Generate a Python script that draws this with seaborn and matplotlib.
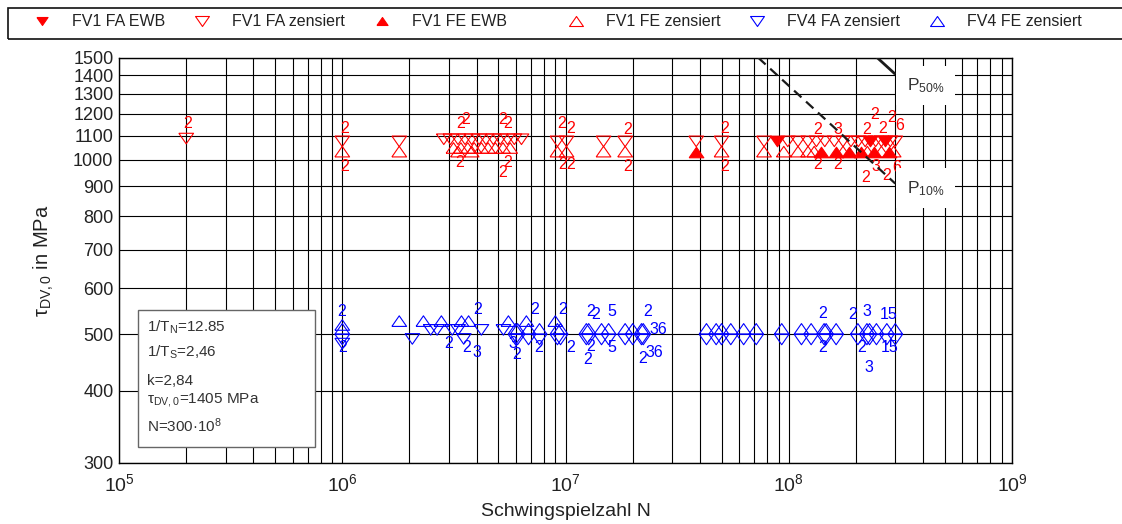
import matplotlib
matplotlib.use("Agg")
import matplotlib.pyplot as plt
from matplotlib.lines import Line2D
from matplotlib.markers import MarkerStyle
from matplotlib.patches import Rectangle
from matplotlib.ticker import FixedLocator, FixedFormatter, LogLocator, NullFormatter, NullLocator
import numpy as np
import seaborn as sns

sns.set_theme(style="white")
plt.rcParams["font.family"] = ["Liberation Sans", "DejaVu Sans"]
plt.rcParams["mathtext.fontset"] = "custom"
plt.rcParams["mathtext.rm"] = "Liberation Sans"
plt.rcParams["mathtext.it"] = "Liberation Sans:italic"
plt.rcParams["mathtext.bf"] = "Liberation Sans:bold"

RED = "#ff0000"
BLUE = "#0000ff"
INK = "#222222"

# ---------------- FV1 (red) ----------------
fv1_fa_ewb_N = [8.85e7, 2.3e8, 2.7e8]
fv1_fa_ewb_tau = [1076, 1076, 1076]

fv1_fa_zens_N = [2.0e5, 1.0e6, 1.8e6,
                 2.85e6, 3.05e6, 3.3e6, 3.55e6, 3.8e6, 4.1e6, 4.4e6, 4.75e6, 5.1e6, 5.5e6, 5.9e6, 6.35e6,
                 9.2e6, 1.01e7, 1.48e7, 1.85e7, 3.85e7, 5.0e7,
                 7.75e7, 9.9e7, 1.1e8, 1.22e8, 1.33e8, 1.45e8, 1.6e8, 1.75e8, 1.9e8, 2.05e8,
                 2.2e8, 2.45e8, 2.6e8, 2.85e8, 3.0e8]
fv1_fa_zens_tau = [1088, 1076, 1076,
                   1085, 1085, 1085, 1085, 1085, 1085, 1085, 1085, 1085, 1085, 1085, 1085,
                   1076, 1076, 1076, 1076, 1076, 1076,
                   1076, 1076, 1076, 1076, 1076, 1076, 1076, 1076, 1076, 1076,
                   1076, 1076, 1076, 1076, 1076]

fv1_fe_ewb_N = [3.85e7, 1.39e8, 1.63e8, 1.86e8, 2.1e8, 2.4e8, 2.8e8]
fv1_fe_ewb_tau = [1033, 1033, 1033, 1033, 1033, 1033, 1033]

fv1_fe_zens_N = [1.0e6, 1.8e6,
                 3.15e6, 3.3e6, 3.4e6, 3.65e6, 3.8e6, 3.9e6, 4.2e6, 4.5e6, 4.85e6, 5.25e6, 5.65e6,
                 9.2e6, 1.01e7, 1.48e7, 1.85e7, 5.0e7,
                 7.75e7, 9.5e7, 1.1e8, 1.22e8, 1.3e8, 1.75e8, 2.25e8, 2.6e8, 2.95e8]
fv1_fe_zens_tau = [1033, 1033,
                   1048, 1033, 1048, 1048, 1033, 1048, 1048, 1048, 1048, 1048, 1048,
                   1033, 1033, 1033, 1033, 1033,
                   1033, 1033, 1033, 1033, 1033, 1033, 1033, 1033, 1033]

# number of coinciding specimens
fv1_count_N = [2.04e5, 1.03e6, 1.03e6, 3.4e6, 3.58e6, 5.25e6, 5.52e6, 3.37e6, 5.52e6, 5.25e6,
               9.64e6, 1.05e7, 9.7e6, 1.05e7, 1.9e7, 1.9e7, 5.18e7, 5.18e7,
               1.35e8, 1.66e8, 2.24e8, 2.43e8, 2.64e8, 2.9e8, 3.15e8,
               1.35e8, 1.66e8, 2.22e8, 2.46e8, 2.75e8, 3.05e8]
fv1_count_tau = [1157, 1134, 972, 1153, 1172, 1172, 1153, 991, 991, 949,
                 1157, 1134, 980, 980, 1126, 972, 1134, 972,
                 1126, 1126, 1126, 1195, 1134, 1185, 1144,
                 980, 980, 934, 972, 941, 968]
fv1_count_text = ["2", "2", "2", "2", "2", "2", "2", "2", "2", "2",
                  "2", "2", "2", "2", "2", "2", "2", "2",
                  "2", "3", "2", "2", "2", "2", "6",
                  "2", "2", "2", "3", "2", "6"]

# ---------------- FV4 (blue) ----------------
fv4_pair_N = [1.0e6, 5.97e6, 6.1e6, 6.83e6, 7.65e6, 9.2e6, 9.5e6, 1.24e7, 1.27e7, 1.45e7, 1.56e7,
              1.85e7, 2.0e7, 2.19e7, 2.23e7, 4.28e7, 4.73e7, 5.0e7, 5.5e7, 6.28e7, 7.15e7,
              9.3e7, 1.14e8, 1.26e8, 1.44e8, 1.47e8, 1.63e8, 2.04e8, 2.24e8, 2.3e8, 2.47e8,
              2.75e8, 3.0e8]

fv4_fe_zens_N = fv4_pair_N + [1.0e6, 1.8e6, 2.31e6, 2.78e6, 3.42e6, 3.68e6, 5.55e6, 6.68e6, 9.0e6]
fv4_fe_zens_tau = [511] * len(fv4_pair_N) + [519, 527, 527, 527, 527, 527, 527, 527, 527]

fv4_fa_zens_N = fv4_pair_N + [1.0e6, 2.06e6, 3.5e6, 2.49e6, 2.66e6, 3.11e6, 3.3e6, 4.2e6, 5.27e6]
fv4_fa_zens_tau = [490] * len(fv4_pair_N) + [482, 491, 491, 509, 509, 509, 509, 509, 509]

fv4_count_N = [9.9e5, 1.0e6, 3.0e6, 3.62e6, 4.02e6, 4.02e6, 5.82e6, 6.07e6, 7.3e6, 7.6e6,
               9.75e6, 1.05e7, 1.29e7, 1.36e7, 1.61e7, 1.29e7, 1.26e7, 1.61e7,
               2.34e7, 2.6e7, 2.22e7, 2.49e7,
               1.42e8, 1.42e8, 1.94e8, 2.24e8, 2.81e8, 2.13e8, 2.29e8, 2.84e8]
fv4_count_tau = [547, 474, 483, 474, 466, 551, 483, 461, 551, 474,
                 551, 474, 547, 540, 547, 476, 452, 474,
                 547, 509, 455, 466,
                 543, 474, 540, 547, 540, 474, 439, 474]
fv4_count_text = ["2", "2", "2", "2", "3", "2", "3", "2", "2", "2",
                  "2", "2", "2", "2", "5", "2", "2", "5",
                  "2", "36", "2", "36",
                  "2", "2", "2", "3", "15", "2", "3", "15"]

# ---------------- Woehler lines (k = 2.84) ----------------
p50_N = [1.0e8, 3.0e8]
p50_tau = [2068, 1405]
p10_N = [7.3e7, 3.0e8]
p10_tau = [1500, 910]

x_ticks = [1e5, 1e6, 1e7, 1e8, 1e9]
x_tick_labels = ["$10^{5}$", "$10^{6}$", "$10^{7}$", "$10^{8}$", "$10^{9}$"]
y_ticks = [300, 400, 500, 600, 700, 800, 900, 1000, 1100, 1200, 1300, 1400, 1500]
y_tick_labels = [str(v) for v in y_ticks]

stats_lines = ["1/T$_{\\mathrm{N}}$=12.85",
               "1/T$_{\\mathrm{S}}$=2,46",
               "k=2,84",
               "τ$_{\\mathrm{DV,0}}$=1405 MPa",
               "N=300·10$^{8}$"]

legend_labels = ["FV1 FA EWB", "FV1 FA zensiert", "FV1 FE EWB",
                 "FV1 FE zensiert", "FV4 FA zensiert", "FV4 FE zensiert"]

# ---------------- figure ----------------
W, H = 1122, 524
fig = plt.figure(figsize=(W / 100, H / 100), dpi=100)
fig.patch.set_facecolor("white")
ax = fig.add_axes([119 / W, 1 - 463 / H, (1012 - 119) / W, (463 - 57.7) / H])

ax.set_xscale("log")
ax.set_yscale("log")
ax.set_xlim(1e5, 1e9)
ax.set_ylim(300, 1500)

TRI_DOWN = MarkerStyle([(-1, 0.72), (1, 0.72), (0, -0.72), (-1, 0.72)])
TRI_UP = MarkerStyle([(-1, -0.72), (1, -0.72), (0, 0.72), (-1, -0.72)])
S = 112


def tri(N, tau, marker, color, filled):
    sns.scatterplot(x=N, y=tau, marker=marker, s=S, color=color, edgecolor=color,
                    linewidth=0.8, ax=ax, zorder=3, legend=False)
    if not filled:
        ax.collections[-1].set_facecolor("none")


tri(fv4_fa_zens_N, fv4_fa_zens_tau, TRI_DOWN, BLUE, False)
tri(fv4_fe_zens_N, fv4_fe_zens_tau, TRI_UP, BLUE, False)
tri(fv1_fa_zens_N, fv1_fa_zens_tau, TRI_DOWN, RED, False)
tri(fv1_fe_zens_N, fv1_fe_zens_tau, TRI_UP, RED, False)
tri(fv1_fa_ewb_N, fv1_fa_ewb_tau, TRI_DOWN, RED, True)
tri(fv1_fe_ewb_N, fv1_fe_ewb_tau, TRI_UP, RED, True)

for n, t, s in zip(fv1_count_N, fv1_count_tau, fv1_count_text):
    ax.text(n, t, s, color=RED, fontsize=11.5, ha="center", va="center", zorder=4)
for n, t, s in zip(fv4_count_N, fv4_count_tau, fv4_count_text):
    ax.text(n, t, s, color=BLUE, fontsize=11.5, ha="center", va="center", zorder=4)

# scatter band lines
ax.plot(p50_N, p50_tau, color="#1a1a1a", lw=2.0, solid_capstyle="butt", zorder=4)
ax.plot(p10_N, p10_tau, color="#1a1a1a", lw=1.6, dashes=(4.5, 2.8), zorder=4)

label_box = dict(boxstyle="square,pad=0.6", fc="white", ec="none")
ax.text(3.38e8, 1319, "P$_{50\\%}$", fontsize=12.5, color="#333333", ha="left",
        va="baseline", bbox=label_box, zorder=5)
ax.text(3.38e8, 877, "P$_{10\\%}$", fontsize=12.5, color="#333333", ha="left",
        va="baseline", bbox=label_box, zorder=5)

# axes styling
ax.xaxis.set_major_locator(FixedLocator(x_ticks))
ax.xaxis.set_major_formatter(FixedFormatter(x_tick_labels))
ax.xaxis.set_minor_locator(LogLocator(base=10, subs=np.arange(2, 10)))
ax.xaxis.set_minor_formatter(NullFormatter())
ax.yaxis.set_major_locator(FixedLocator(y_ticks))
ax.yaxis.set_major_formatter(FixedFormatter(y_tick_labels))
ax.yaxis.set_minor_locator(NullLocator())
ax.grid(True, which="both", color="black", lw=0.8)
ax.set_axisbelow(True)
ax.tick_params(which="both", length=0, colors=INK)
ax.tick_params(axis="x", labelsize=14, pad=7)
ax.tick_params(axis="y", labelsize=13, pad=4)
for sp in ax.spines.values():
    sp.set_color("black")
    sp.set_linewidth(1.0)

ax.set_xlabel("Schwingspielzahl N", fontsize=14, color=INK, labelpad=6)
ax.set_ylabel("τ$_{\\mathrm{DV,0}}$ in MPa", fontsize=14.5, color=INK, labelpad=12)

# parameter box
ax.add_patch(Rectangle((0.0213, 0.0395), 0.1982, 0.338, transform=ax.transAxes,
                       fc="white", ec="#666666", lw=1.0, zorder=5))
for txt, yb in zip(stats_lines, [0.3232, 0.2615, 0.1925, 0.148, 0.0765]):
    ax.text(0.0314, yb, txt, transform=ax.transAxes, fontsize=11, color="#333333",
            ha="left", va="baseline", zorder=6)

# legend across the top (two groups so the column spacing follows the header layout)
handles = [
    Line2D([], [], ls="none", marker=TRI_DOWN, ms=8, mfc=RED, mec=RED, mew=0.8),
    Line2D([], [], ls="none", marker=TRI_DOWN, ms=10, mfc="none", mec=RED, mew=0.8),
    Line2D([], [], ls="none", marker=TRI_UP, ms=8, mfc=RED, mec=RED, mew=0.8),
    Line2D([], [], ls="none", marker=TRI_UP, ms=10, mfc="none", mec=RED, mew=0.8),
    Line2D([], [], ls="none", marker=TRI_DOWN, ms=10, mfc="none", mec=BLUE, mew=0.8),
    Line2D([], [], ls="none", marker=TRI_UP, ms=10, mfc="none", mec=BLUE, mew=0.8),
]
leg_kw = dict(loc="upper left", ncol=3, frameon=False, fontsize=11.5, borderpad=0.4,
              borderaxespad=0, handlelength=3.45, handletextpad=0.15, columnspacing=0.58,
              labelcolor=INK)
fig.legend(handles[:3], legend_labels[:3], bbox_to_anchor=(8 / W, 1 - 8 / H), **leg_kw)
fig.legend(handles[3:], legend_labels[3:], bbox_to_anchor=(542 / W, 1 - 8 / H), **leg_kw)
fig.patches.append(Rectangle((8 / W, 1 - 39 / H), (1140 - 8) / W, 31 / H,
                             transform=fig.transFigure, fc="none", ec="#111111", lw=1.2))

fig.savefig("out.png", dpi=100)
